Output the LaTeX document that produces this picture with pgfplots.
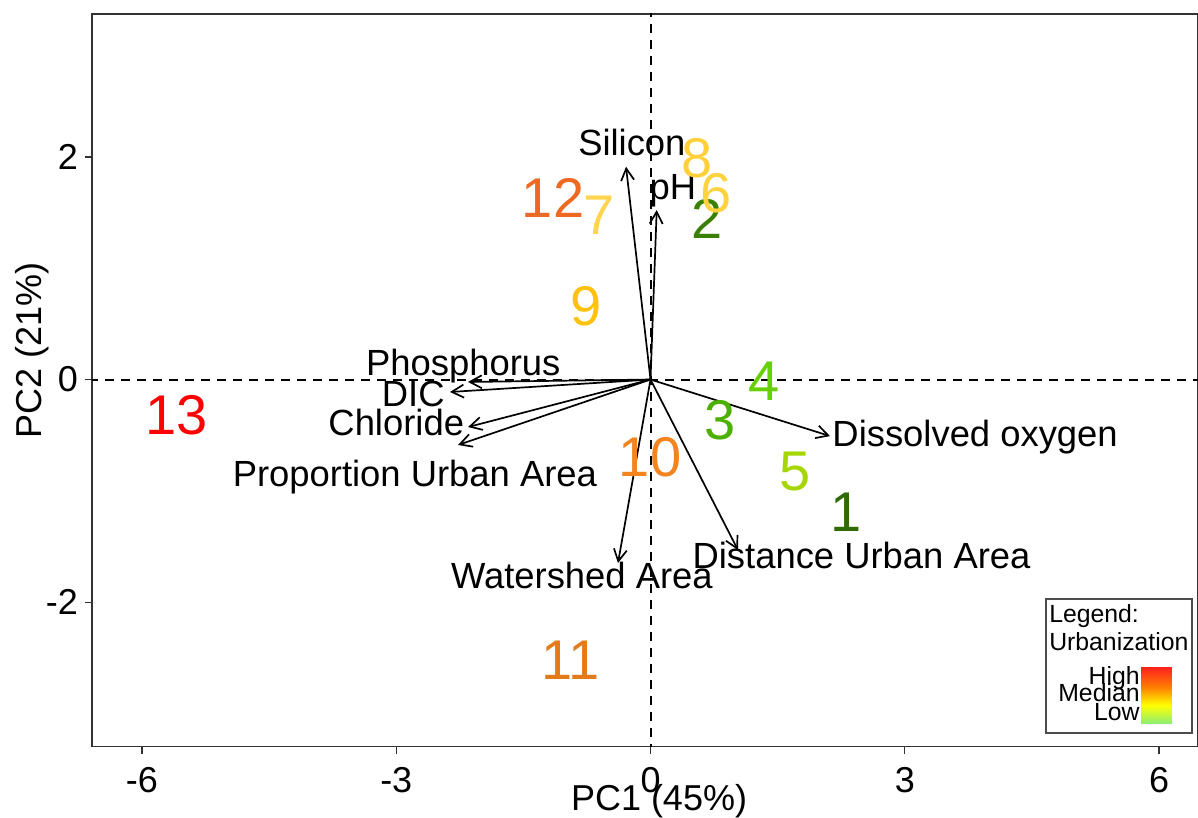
\documentclass[border=0pt]{standalone}
\usepackage{fontspec}
\setmainfont{Liberation Sans}
\usepackage{pgfplots}
\pgfplotsset{compat=1.18}
\usetikzlibrary{arrows.meta}

\definecolor{c1}{HTML}{2F6B00}
\definecolor{c2}{HTML}{3A7F00}
\definecolor{c3}{HTML}{4CB000}
\definecolor{c4}{HTML}{66D000}
\definecolor{c5}{HTML}{A6D600}
\definecolor{c6}{HTML}{FFD23F}
\definecolor{c7}{HTML}{FFD54F}
\definecolor{c8}{HTML}{FFD03A}
\definecolor{c9}{HTML}{FFC20E}
\definecolor{c10}{HTML}{F48420}
\definecolor{c11}{HTML}{E37B1A}
\definecolor{c12}{HTML}{EE6A22}
\definecolor{c13}{HTML}{FF0000}
\definecolor{lowg}{HTML}{90EE70}
\definecolor{hired}{HTML}{FF2020}

\pgfdeclareverticalshading{urb}{100bp}{color(0bp)=(lowg); color(25bp)=(lowg); color(41bp)=(yellow); color(57bp)=(orange); color(75bp)=(hired); color(100bp)=(hired)}

\newcommand{\numfont}{\fontsize{28bp}{30bp}\selectfont}
\newcommand{\lblfont}{\fontsize{18.2bp}{20bp}\selectfont}
\newcommand{\tickfont}{\fontsize{18bp}{20bp}\selectfont}
\newcommand{\legfont}{\fontsize{12.4bp}{13.5bp}\selectfont}

\newcommand{\site}[4]{%
\addplot[only marks, mark=none, nodes near coords={#3},
  nodes near coords style={anchor=center, font=\numfont, text=#4, inner sep=0pt}]
  coordinates {(#1,#2)};}

\newcommand{\loading}[2]{%
\addplot[black, line width=0.85bp, -{Straight Barb[length=6bp,width=6.5bp]}]
  coordinates {(0,0) (#1,#2)};}

\begin{document}
\begin{tikzpicture}
\begin{axis}[name=ax, scale only axis, width=553bp, height=366.25bp,
  xmin=-6.59, xmax=6.46, ymin=-3.297, ymax=3.284,
  xtick={-6,-3,0,3,6}, xticklabels={-6,-3,0,3,6},
  ytick={-2,0,2}, yticklabels={-2,0,2},
  tick align=outside, xtick pos=bottom, ytick pos=left,
  major tick length=3.5bp,
  tick style={black!80, line width=0.6bp},
  axis line style={black!80, line width=0.8bp},
  ticklabel style={font=\tickfont},
  xticklabel style={anchor=base, yshift=-19.25bp},
  xlabel={PC1 (45\%)}, ylabel={PC2 (21\%)},
  label style={font=\tickfont},
  xlabel style={at={(axis description cs:0.5127,-0.0867)}, anchor=base},
  ylabel style={at={(axis description cs:-0.0542,0.541)}, anchor=center},
]
% reference lines
\addplot[black, line width=1bp, dash pattern=on 4.5bp off 3.5bp] coordinates {(-7,0) (7,0)};
\addplot[black, line width=1bp, dash pattern=on 4.5bp off 3.5bp] coordinates {(0,-3.5) (0,3.5)};

% loadings
\loading{-0.289}{1.912}
\loading{0.073}{1.523}
\loading{-2.153}{-0.022}
\loading{-2.366}{-0.112}
\loading{-2.153}{-0.427}
\loading{-2.271}{-0.588}
\loading{2.118}{-0.508}
\loading{1.032}{-1.532}
\loading{-0.384}{-1.649}

% loading labels
\addplot[only marks, mark=none, point meta=explicit symbolic, nodes near coords,
  nodes near coords style={anchor=base, font=\lblfont, inner sep=0pt, text=black}]
  coordinates {
  (-0.22,2.017) [Silicon]
  (0.263,1.613) [pH]
  (-2.21,0.04) [Phosphorus]
  (-2.80,-0.244) [DIC]
  (-3.00,-0.499) [Chloride]
  (-2.78,-0.963) [Proportion Urban Area]
  (3.83,-0.604) [Dissolved oxygen]
  (2.49,-1.694) [Distance Urban Area]
  (-0.81,-1.873) [Watershed Area]
  };

% sites
\site{2.306}{-1.195}{1}{c1}
\site{0.673}{1.442}{2}{c2}
\site{0.82}{-0.364}{3}{c3}
\site{1.339}{-0.013}{4}{c4}
\site{1.705}{-0.828}{5}{c5}
\site{0.773}{1.676}{6}{c6}
\site{-0.608}{1.478}{7}{c7}
\site{0.545}{1.99}{8}{c8}
\site{-0.761}{0.66}{9}{c9}
\site{-0.006}{-0.70}{10}{c10}
\site{-0.94}{-2.52}{11}{c11}
\site{-1.15}{1.635}{12}{c12}
\site{-5.595}{-0.319}{13}{c13}

% legend
\draw[black!70, line width=0.6bp, fill=white] (axis cs:4.667,-1.972) rectangle (axis cs:6.389,-3.176);
\node[anchor=base west, inner sep=0pt, font=\legfont] at (axis cs:4.70,-2.179) {Legend:};
\node[anchor=base west, inner sep=0pt, font=\legfont] at (axis cs:4.70,-2.430) {Urbanization};
\node[anchor=base east, inner sep=0pt, font=\legfont] at (axis cs:5.776,-2.736) {High};
\node[anchor=base east, inner sep=0pt, font=\legfont] at (axis cs:5.776,-2.889) {Median};
\node[anchor=base east, inner sep=0pt, font=\legfont] at (axis cs:5.776,-3.060) {Low};
\path[shading=urb] (axis cs:5.788,-3.086) rectangle (axis cs:6.153,-2.583);
\end{axis}
\pgfresetboundingbox
\path ([shift={(-46bp,-35.25bp)}]ax.south west) rectangle ([shift={(0bp,7bp)}]ax.north east);
\end{tikzpicture}
\end{document}
